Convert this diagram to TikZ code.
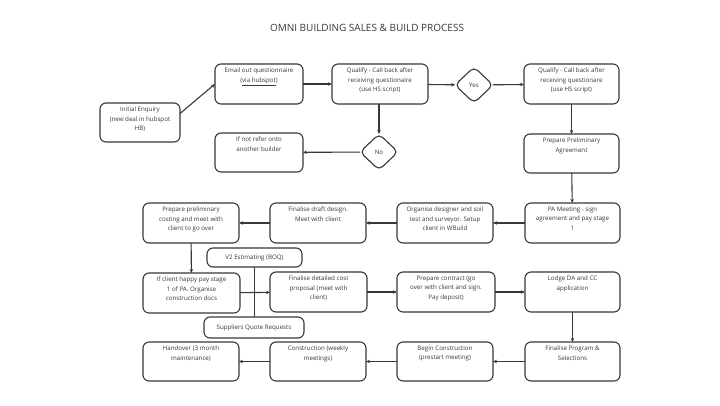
\documentclass[tikz,border=0pt]{standalone}
\usepackage{fontspec}
\setmainfont{Open Sans}
\usetikzlibrary{arrows.meta,shapes.geometric}
\definecolor{ink}{HTML}{383838}
\newcommand\bx[6]{\node[bbox, minimum width={(#4-#2)*1pt}, minimum height={(#5-#3)*1pt}] (#1) at ({(#2+#4)/2},{(#3+#5)/2}) {};
  \node[btxt, anchor=north] (#1-t) at ([yshift=-3.5pt]#1.north) {#6};}
\newcommand\cbx[6]{\node[bbox, btxt, minimum width={(#4-#2)*1pt}, minimum height={(#5-#3)*1pt}] (#1) at ({(#2+#4)/2},{(#3+#5)/2}) {#6};}
\begin{document}
\begin{tikzpicture}[x=1pt,y=-1pt,
  bbox/.style={draw=ink, line width=1.1pt, rounded corners=6pt, inner sep=0pt, outer sep=0pt},
  btxt/.style={text=ink, align=center, font=\fontsize{6.2}{9.6}\selectfont, inner sep=0pt},
  dia/.style={draw=ink, line width=1.1pt, diamond, rounded corners=5pt, inner sep=0pt, outer sep=0pt, minimum width=38pt, minimum height=36pt, text=ink, font=\fontsize{6.2}{8}\selectfont},
  conn/.style={draw=ink, line width=1.1pt},
  arr/.style={conn, -{Stealth[length=4pt,width=3.5pt]}}]
\useasboundingbox (0,0) rectangle (720,405);
\fill[white] (0,0) rectangle (720,405);
\node[text=ink, font=\fontsize{10}{12}\selectfont] (title) at (367,28) {OMNI BUILDING SALES \& BUILD PROCESS};
% row 1
\bx{init}{100}{103}{180}{142}{Initial Enquiry\\(new deal in hubspot\\HB)}
\bx{email}{215}{64}{303}{104}{Email out questionnaire\\(\underline{via hubspot})}
\bx{q1}{332}{64}{428}{104}{Qualify - Call back after\\receiving questionaire\\(use HS script)}
\node[dia] (yes) at (474,85) {Yes};
\bx{q2}{524}{64}{619}{104}{Qualify - Call back after\\receiving questionare\\(use HS script)}
% row 2
\node[dia] (no) at (379,152) {No};
\bx{refer}{215}{133}{303}{172}{If not refer onto\\another builder}
\bx{ppa}{524}{134}{619}{173}{Prepare Preliminary\\Agreement}
% row 3
\bx{cost}{143}{203}{239}{243}{Prepare preliminary\\costing and meet with\\client to go over}
\bx{draft}{270}{203}{366}{243}{Finalise draft design.\\Meet with client}
\bx{org}{397}{203}{493}{243}{Organise designer and soil\\test and surveyor. Setup\\client in WBuild}
\bx{pam}{525}{203}{620}{243}{PA Meeting - sign\\agreement and pay stage\\1}
% row 4
\cbx{v2}{207}{248}{302}{267}{V2 Estimating (BOQ)}
\bx{happy}{143}{273}{240}{313}{If client happy pay stage\\1 of PA. Organise\\construction docs}
\cbx{sup}{204}{317}{304}{338}{Suppliers Quote Requests}
\bx{fdc}{270}{272}{367}{312}{Finalise detailed cost\\proposal (meet with\\client)}
\bx{contract}{397}{272}{495}{312}{Prepare contract (go\\over with client and sign.\\Pay deposit)}
\bx{lodge}{525}{272}{620}{312}{Lodge DA and CC\\application}
% row 5
\bx{hand}{143}{342}{239}{381}{Handover (3 month\\maintenance)}
\bx{cons}{270}{342}{366}{381}{Construction (weekly\\meetings)}
\bx{begin}{397}{342}{493}{381}{Begin Construction\\(prestart meeting)}
\bx{prog}{525}{342}{620}{381}{Finalise Program \&\\Selections}
% connectors
\draw[arr] ([yshift=9pt]init.east) -- (email.west);
\draw[arr] (email) -- (q1);
\draw[arr] (q1) -- (yes);
\draw[arr] (yes) -- (q2);
\draw[arr] (q1.south -| no.north) -- (no.north);
\draw[arr] (no) -- (refer);
\draw[arr] (q2) -- (ppa);
\draw[arr] (ppa) -- (pam);
\draw[arr] (pam) -- (org);
\draw[arr] (org) -- (draft);
\draw[arr] (draft) -- (cost);
\draw[arr] (cost) -- (happy);
\draw[arr] (happy) -- (fdc);
\draw[conn] (v2.south) -- (v2.south |- sup.north);
\draw[arr] (fdc) -- (contract);
\draw[arr] (contract) -- (lodge);
\draw[arr] (lodge) -- (prog);
\draw[arr] (prog) -- (begin);
\draw[arr] (begin) -- (cons);
\draw[arr] (cons) -- (hand);
\end{tikzpicture}
\end{document}
